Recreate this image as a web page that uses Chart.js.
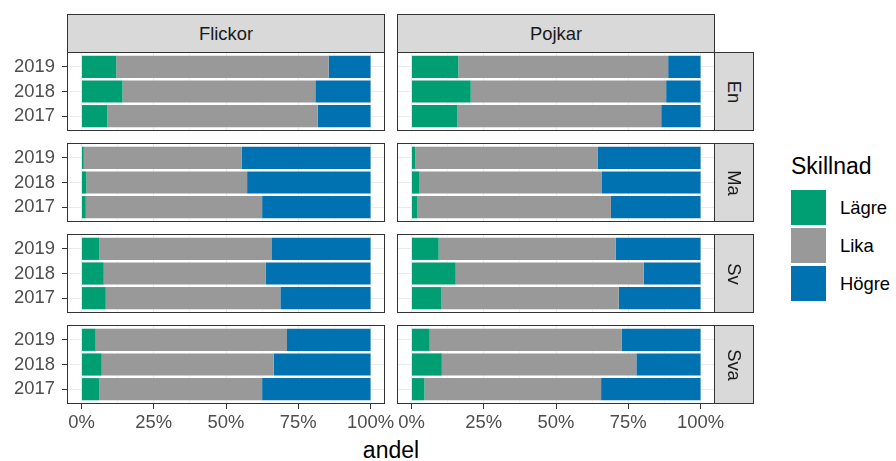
<!DOCTYPE html>
<html lang="sv">
<head>
<meta charset="utf-8">
<title>Skillnad</title>
<script src="https://cdn.jsdelivr.net/npm/chart.js@4.4.1/dist/chart.umd.min.js"></script>
<style>
  body { margin: 0; background: #fff; font-family: 'Liberation Sans', Arial, sans-serif }
  #wrap { position: relative; width: 896px; height: 461px; overflow: hidden }
  #wrap canvas { position: absolute }
  .strip { position: absolute; box-sizing: border-box; background: #d9d9d9; border: 1px solid #333; color: #1a1a1a; font-size: 18.4px; display: flex; align-items: center; justify-content: center }
  .strip.side span { transform: rotate(90deg); white-space: nowrap }
  .txt { position: absolute; white-space: nowrap }
  .key { position: absolute; left: 791px; height: 35px; display: flex; align-items: center; font-size: 18.4px; color: #000 }
  .key i { display: inline-block; width: 35px; height: 35px; margin-right: 14px }
</style>
</head>
<body>
<div id="wrap"></div>
<script>
const years = ['2019', '2018', '2017']
const genders = ['Flickor', 'Pojkar']
const subjects = ['En', 'Ma', 'Sv', 'Sva']
const series = ['Lägre', 'Lika', 'Högre']
const seriesColors = ['#009E73', '#999999', '#0072B2']
const xTicks = [0, 12.5, 25, 37.5, 50, 62.5, 75, 87.5, 100]

// andel i procent, en rad per ämne (En, Ma, Sv, Sva), år i ordningen 2019, 2018, 2017
const lagreFlickor = [[12.0, 14.2, 8.9], [0.8, 1.7, 1.5], [6.2, 7.7, 8.4], [4.9, 7.0, 6.2]]
const likaFlickor  = [[73.5, 66.7, 72.8], [54.7, 55.6, 61.0], [59.5, 56.1, 60.4], [66.2, 59.5, 56.3]]
const hogreFlickor = [[14.5, 19.1, 18.3], [44.5, 42.7, 37.5], [34.3, 36.2, 31.2], [28.9, 33.5, 37.5]]
const lagrePojkar  = [[16.2, 20.5, 15.9], [1.3, 2.8, 2.1], [9.4, 15.3, 10.4], [6.3, 10.5, 4.5]]
const likaPojkar   = [[72.6, 67.6, 70.5], [63.2, 63.1, 66.9], [61.3, 65.0, 61.3], [66.5, 67.3, 61.1]]
const hogrePojkar  = [[11.2, 11.9, 13.6], [35.5, 34.1, 31.0], [29.3, 19.7, 28.3], [27.2, 22.2, 34.4]]

const values = [[lagreFlickor, lagrePojkar], [likaFlickor, likaPojkar], [hogreFlickor, hogrePojkar]]

// panel geometry
const colLeft = [67, 397]
const rowTop = [52, 143, 234, 325]
const panelW = 318, panelH = 79
const yAxisW = 67, xAxisH = 30, padR = 12

const panelBorder = {
  id: 'panelBorder',
  afterDraw(chart) {
    const { ctx, chartArea: a } = chart
    ctx.save()
    ctx.strokeStyle = '#333'
    ctx.lineWidth = 1
    ctx.strokeRect(a.left + 0.5, a.top + 0.5, a.width - 1, a.height - 1)
    ctx.restore()
  }
}

const wrap = document.getElementById('wrap')

function addDiv(cls, style, html) {
  const d = document.createElement('div')
  d.className = cls
  Object.assign(d.style, style)
  d.innerHTML = html
  wrap.appendChild(d)
  return d
}

function drawPanel(r, c) {
  const isLeft = c === 0
  const isBottom = r === subjects.length - 1
  const w = (isLeft ? yAxisW : 0) + panelW + padR
  const h = panelH + (isBottom ? xAxisH : 0)
  const canvas = document.createElement('canvas')
  canvas.width = w; canvas.height = h
  canvas.style.left = (colLeft[c] - (isLeft ? yAxisW : 0)) + 'px'
  canvas.style.top = rowTop[r] + 'px'
  canvas.style.width = w + 'px'; canvas.style.height = h + 'px'
  wrap.appendChild(canvas)

  const datasets = series.map((name, k) => ({
    label: name,
    data: values[k][c][r].map((v, i) => ({ x: v, y: i + 1 })),
    backgroundColor: seriesColors[k],
    borderWidth: 0,
    barPercentage: 0.9,
    categoryPercentage: 1
  }))

  new Chart(canvas.getContext('2d'), {
    type: 'bar',
    data: { datasets },
    plugins: [panelBorder],
    options: {
      indexAxis: 'y',
      responsive: false,
      animation: false,
      events: [],
      layout: { padding: { left: 0, right: padR, top: 0, bottom: 0 } },
      plugins: { legend: { display: false }, tooltip: { enabled: false } },
      scales: {
        x: {
          type: 'linear', min: -5, max: 105, stacked: true, offset: false,
          afterBuildTicks: s => { s.ticks = xTicks.map(v => ({ value: v })) },
          afterFit: s => { s.height = isBottom ? xAxisH : 0; s.paddingLeft = 0; s.paddingRight = 0 },
          border: { display: false },
          grid: {
            offset: false,
            color: ctx => ctx.tick && ctx.tick.value % 25 ? '#F4F4F4' : '#EBEBEB',
            drawTicks: isBottom, tickLength: 5,
            tickColor: ctx => ctx.tick && ctx.tick.value % 25 ? 'rgba(0,0,0,0)' : '#333'
          },
          ticks: {
            display: isBottom, autoSkip: false, maxRotation: 0, minRotation: 0, padding: 3,
            color: '#4D4D4D', font: { size: 18.4 },
            callback: v => v % 25 ? '' : v + '%'
          }
        },
        y: {
          type: 'linear', min: 0.4, max: 3.6, reverse: true, stacked: true, offset: false,
          afterBuildTicks: s => { s.ticks = years.map((y, i) => ({ value: i + 1 })) },
          afterFit: s => { s.width = isLeft ? yAxisW : 0; s.paddingTop = 0; s.paddingBottom = 0 },
          border: { display: false },
          grid: { offset: false, color: '#EBEBEB', drawTicks: isLeft, tickLength: 5, tickColor: '#333' },
          ticks: {
            display: isLeft, padding: 7, color: '#4D4D4D', font: { size: 18.4 },
            callback: v => years[v - 1]
          }
        }
      }
    }
  })
}

Chart.defaults.font.family = "'Liberation Sans', Arial, sans-serif"

subjects.forEach((s, r) => genders.forEach((g, c) => drawPanel(r, c)))

// strips
genders.forEach((g, c) => addDiv('strip', { left: colLeft[c] + 'px', top: '14px', width: panelW + 'px', height: '39px' }, g))
subjects.forEach((s, r) => addDiv('strip side', { left: '714px', top: rowTop[r] + 'px', width: '40px', height: panelH + 'px' }, '<span>' + s + '</span>'))

// axis title
addDiv('txt', { left: '291px', width: '200px', textAlign: 'center', top: '439px', fontSize: '23px', lineHeight: '23px', color: '#000' }, 'andel')

// legend
addDiv('txt', { left: '791px', top: '155px', fontSize: '23px', lineHeight: '23px', color: '#000' }, 'Skillnad')
series.forEach((name, k) => {
  addDiv('key', { top: (190 + k * 38) + 'px' }, '<i style="background:' + seriesColors[k] + '"></i>' + name)
})
</script>
</body>
</html>
